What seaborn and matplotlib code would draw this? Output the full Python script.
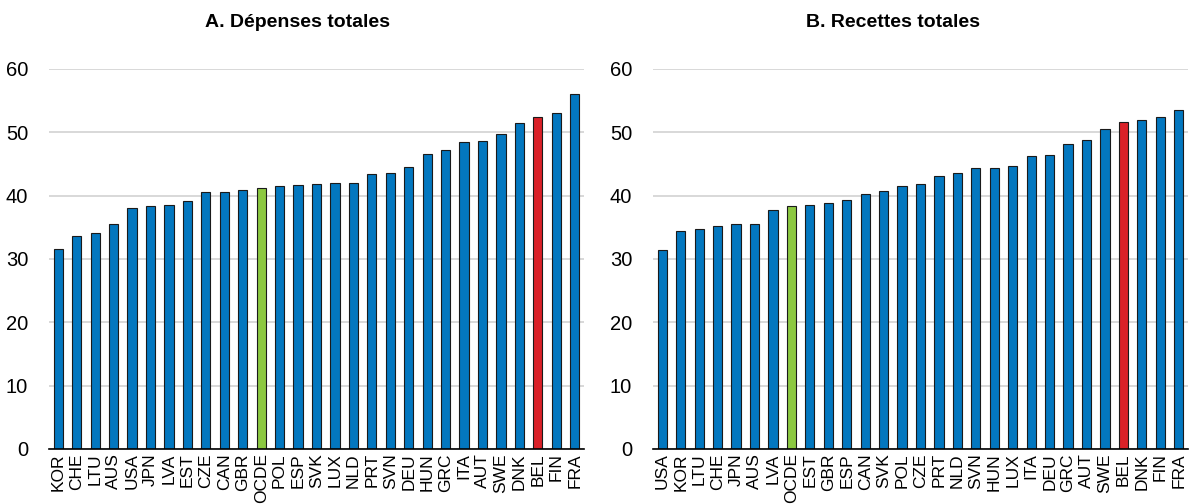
import matplotlib
matplotlib.use("Agg")
import matplotlib.pyplot as plt
import seaborn as sns
import pandas as pd
import numpy as np
from matplotlib.ticker import FixedLocator

# ---- data ----
cats_a = ["KOR", "CHE", "LTU", "AUS", "USA", "JPN", "LVA", "EST", "CZE", "CAN",
          "GBR", "OCDE", "POL", "ESP", "SVK", "LUX", "NLD", "PRT", "SVN", "DEU",
          "HUN", "GRC", "ITA", "AUT", "SWE", "DNK", "BEL", "FIN", "FRA"]
vals_a = [31.6, 33.7, 34.1, 35.5, 38.0, 38.3, 38.5, 39.1, 40.6, 40.6,
          40.9, 41.2, 41.6, 41.7, 41.8, 42.0, 42.0, 43.5, 43.6, 44.6,
          46.6, 47.2, 48.4, 48.6, 49.8, 51.5, 52.4, 53.1, 56.0]

cats_b = ["USA", "KOR", "LTU", "CHE", "JPN", "AUS", "LVA", "OCDE", "EST", "GBR",
          "ESP", "CAN", "SVK", "POL", "CZE", "PRT", "NLD", "SVN", "HUN", "LUX",
          "ITA", "DEU", "GRC", "AUT", "SWE", "BEL", "DNK", "FIN", "FRA"]
vals_b = [31.4, 34.4, 34.7, 35.2, 35.5, 35.6, 37.8, 38.3, 38.6, 38.8,
          39.3, 40.3, 40.8, 41.5, 41.8, 43.1, 43.6, 44.4, 44.4, 44.7,
          46.3, 46.4, 48.2, 48.8, 50.6, 51.7, 52.0, 52.4, 53.5]

titles = ["A. Dépenses totales", "B. Recettes totales"]
yticks = [0, 10, 20, 30, 40, 50, 60]

# ---- style ----
BLUE = "#0377BF"
RED = "#DA2128"
GREEN = "#8CC841"
highlight = {"BEL": RED, "OCDE": GREEN}

sns.set_theme(style="white")
plt.rcParams["font.family"] = ["Liberation Sans", "DejaVu Sans"]

fig = plt.figure(figsize=(11.9, 5.04), dpi=100)
W, H = 1190.0, 504.0
top_px, bot_px = 69.0, 449.0
panels = [(49.0, 584.0, 297.5), (653.0, 1188.0, 892.5)]

for (cats, vals), (l, r, tx), title in zip([(cats_a, vals_a), (cats_b, vals_b)], panels, titles):
    ax = fig.add_axes([l / W, (H - bot_px) / H, (r - l) / W, (bot_px - top_px) / H])
    df = pd.DataFrame({"pays": cats, "valeur": vals})
    pal = {c: highlight.get(c, BLUE) for c in cats}
    sns.barplot(data=df, x="pays", y="valeur", hue="pays", palette=pal, legend=False,
                width=0.5, edgecolor="#1a1a1a", linewidth=0.8, saturation=1, ax=ax)
    n = len(cats)
    ax.set_xlim(-0.5, n - 0.5)
    ax.set_ylim(0, 60)
    ax.set_yticks(yticks)
    ax.set_xlabel("")
    ax.set_ylabel("")
    for s in ["left", "right", "top"]:
        ax.spines[s].set_visible(False)
    ax.spines["bottom"].set_color("black")
    ax.spines["bottom"].set_linewidth(1.2)
    ax.yaxis.grid(True, color="#D6D6D6", linewidth=1.3)
    ax.xaxis.grid(False)
    ax.set_axisbelow(True)
    ax.tick_params(axis="y", length=0, pad=15)
    for lab in ax.get_yticklabels():
        lab.set_family(["Liberation Sans Narrow", "Liberation Sans", "DejaVu Sans"])
        lab.set_fontsize(14.5)
        lab.set_color("black")
    ax.tick_params(axis="x", which="major", length=0, pad=3, labelsize=12.5,
                   labelrotation=90, labelcolor="black")
    ax.xaxis.set_minor_locator(FixedLocator(np.arange(-0.5, n, 1.0)))
    ax.tick_params(axis="x", which="minor", direction="in", length=5, width=1, color="black")
    fig.text(tx / W, 1 - 27.0 / H, title, ha="center", va="baseline",
             fontsize=14, fontweight="bold", color="black")

fig.savefig("out.png", dpi=100)
